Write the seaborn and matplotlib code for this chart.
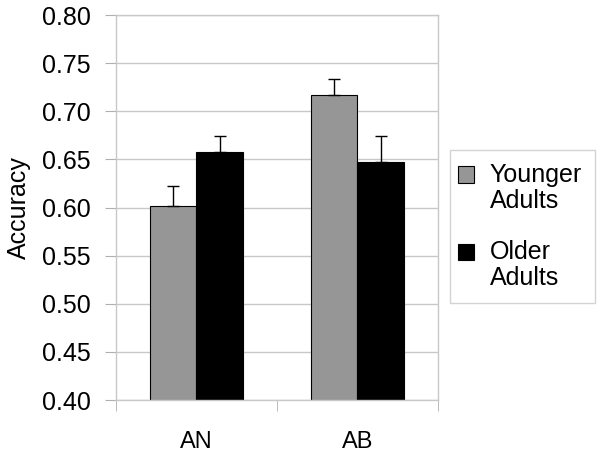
import matplotlib
matplotlib.use("Agg")
import matplotlib.pyplot as plt
import matplotlib.patches as mpatches
from matplotlib.legend_handler import HandlerPatch
import numpy as np
import pandas as pd
import seaborn as sns

conditions = ["AN", "AB"]
groups = ["Younger\nAdults", "Older\nAdults"]
younger_acc = [0.602, 0.717]
older_acc = [0.658, 0.647]
younger_err = [0.020, 0.017]
older_err = [0.016, 0.027]

df = pd.DataFrame({
    "condition": conditions * 2,
    "group": [groups[0]] * 2 + [groups[1]] * 2,
    "accuracy": younger_acc + older_acc,
})

sns.set_style("white", {"text.color": "black", "axes.labelcolor": "black",
                        "xtick.color": "black", "ytick.color": "black"})
plt.rcParams["font.family"] = ["Liberation Sans", "DejaVu Sans"]

fig = plt.figure(figsize=(6, 4.58), dpi=100)
ax = fig.add_axes([0.1933, 0.1266, 0.5367, 0.8404])

sns.barplot(data=df, x="condition", y="accuracy", hue="group",
            palette=["#969696", "#000000"], width=0.575, gap=0,
            edgecolor="black", linewidth=0.8, errorbar=None, ax=ax)

for cont, errs in zip(ax.containers, [younger_err, older_err]):
    xs = [p.get_x() + p.get_width() / 2 for p in cont.patches]
    hs = [p.get_height() for p in cont.patches]
    ax.errorbar(xs, hs, yerr=[np.zeros(len(errs)), errs], fmt="none",
                ecolor="black", elinewidth=1, capsize=4, capthick=1)

ax.set_ylim(0.40, 0.80)
ax.set_xlim(-0.5, 1.5)
yt = np.arange(0.40, 0.801, 0.05)
ax.set_yticks(yt)
ax.set_yticklabels([f"{v:.2f}" for v in yt])
ax.yaxis.grid(True, color="#c8c8c8", linewidth=1)
ax.set_axisbelow(True)

ax.set_xticks([-0.5, 0.5, 1.5], minor=True)
ax.tick_params(axis="x", which="major", length=0, labelsize=17, pad=22, labelcolor="black")
ax.tick_params(axis="x", which="minor", length=8, color="#b0b0b0", direction="out", bottom=True)
ax.tick_params(axis="y", length=8, color="#b0b0b0", direction="out", left=True,
               labelsize=18, pad=10, labelcolor="black")

for s in ax.spines.values():
    s.set_color("#c8c8c8")
    s.set_linewidth(1)

ax.set_xlabel("")
ax.set_ylabel("Accuracy", fontsize=18, labelpad=8, color="black")


def top_square(legend, orig_handle, xdescent, ydescent, width, height, fontsize):
    # put the swatch level with the first line of the two-line label
    return mpatches.Rectangle((-xdescent - 3, -ydescent + 0.55 * fontsize), width, height)


handles, labels = ax.get_legend_handles_labels()
leg = ax.legend(handles, labels, loc="upper left", bbox_to_anchor=(1.037, 0.649),
                borderaxespad=0, fontsize=18, frameon=True, fancybox=False,
                edgecolor="#c8c8c8", handlelength=0.65, handleheight=0.65,
                handletextpad=0.45, labelspacing=1.1, borderpad=0.5,
                handler_map={mpatches.Rectangle: HandlerPatch(patch_func=top_square)})
leg.get_frame().set_linewidth(1)
for t in leg.get_texts():
    t.set_linespacing(1.1)
    t.set_color("black")

fig.savefig("out.png", dpi=100)
